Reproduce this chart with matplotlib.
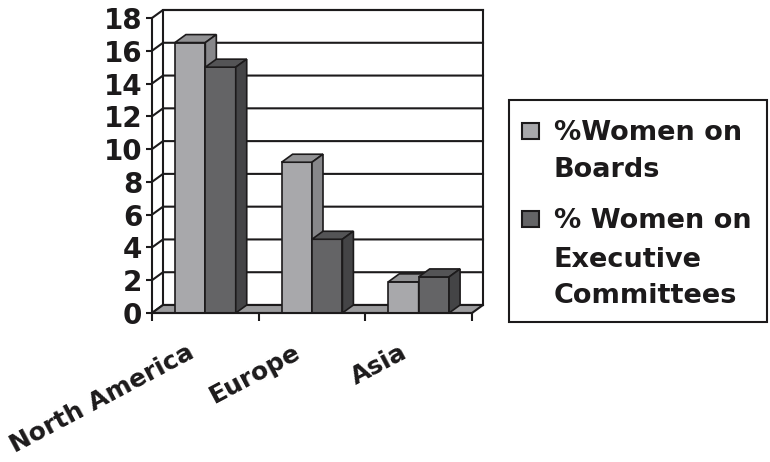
import matplotlib.pyplot as plt
from matplotlib.patches import Polygon, Rectangle
from matplotlib.transforms import ScaledTranslation

plt.rcParams['font.family'] = ['DejaVu Sans']
plt.rcParams['font.weight'] = 'bold'

# ---- data ----
regions = ['North America', 'Europe', 'Asia']
boards = [16.5, 9.2, 1.9]
exec_comm = [15.0, 4.5, 2.2]
series_names = [['%Women on', 'Boards'],
                ['% Women on', 'Executive', 'Committees']]
yticks = list(range(0, 20, 2))

# ---- colours (front, top, side) ----
board_cols = ('#a8a8ab', '#929294', '#87878a')
exec_cols = ('#646466', '#545456', '#444446')
floor_col = '#9c9c9e'
ink = '#1c1a1b'

W, H = 770, 462
fig = plt.figure(figsize=(W / 100, H / 100), dpi=100)

# front plane of the 3d box, in pixels
x0p, x1p, y0p, y1p = 152, 472, 313, 18
ax = fig.add_axes([x0p / W, 1 - y0p / H, (x1p - x0p) / W, (y0p - y1p) / H])
ax.set_xlim(0, 3)
ax.set_ylim(0, 18)
ax.patch.set_alpha(0)

# depth offset in data units
DX = 11 / ((x1p - x0p) / 3)
DY = 8 / ((y0p - y1p) / 18)

# back wall + gridlines (back wall and left wall)
ax.add_patch(Rectangle((DX, DY), 3, 18, fc='white', ec=ink, lw=1.5,
                       clip_on=False, zorder=0))
for v in yticks:
    ax.plot([0, DX, 3 + DX], [v, v + DY, v + DY], color=ink, lw=1.5,
            clip_on=False, zorder=1)

# floor
ax.add_patch(Polygon([(0, 0), (3, 0), (3 + DX, DY), (DX, DY)], closed=True,
                     fc=floor_col, ec=ink, lw=1.5, clip_on=False, zorder=2))


def bar3d(xs, vals, width, cols, z):
    ax.bar(xs, vals, width=width, align='edge', color=cols[0],
           edgecolor=ink, lw=1.2, zorder=z)
    for x, v in zip(xs, vals):
        top = [(x, v), (x + DX, v + DY), (x + width + DX, v + DY), (x + width, v)]
        side = [(x + width, 0), (x + width + DX, DY),
                (x + width + DX, v + DY), (x + width, v)]
        ax.add_patch(Polygon(top, closed=True, fc=cols[1], ec=ink, lw=1.2,
                             clip_on=False, zorder=z))
        ax.add_patch(Polygon(side, closed=True, fc=cols[2], ec=ink, lw=1.2,
                             clip_on=False, zorder=z))


BW = 0.285
centers = [i + 0.5 for i in range(len(regions))]
bar3d([c - BW for c in centers], boards, BW, board_cols, 3)
bar3d(centers, exec_comm, BW, exec_cols, 4)

# axes
for s in ['top', 'right']:
    ax.spines[s].set_visible(False)
for s in ['left', 'bottom']:
    ax.spines[s].set_linewidth(1.5)
    ax.spines[s].set_color(ink)
    ax.spines[s].set_zorder(5)
ax.set_yticks(yticks)
ax.set_yticklabels([str(v) for v in yticks], fontsize=20, fontweight='bold',
                   color=ink)
ax.tick_params(axis='y', length=4, width=1.5, pad=3, color=ink)
ax.set_xticks([0, 1, 2, 3])
ax.set_xticklabels([])
ax.tick_params(axis='x', length=6, width=1.5, color=ink)

for c, name in zip(centers, regions):
    off = ScaledTranslation(-0.10, -0.44, fig.dpi_scale_trans)
    ax.text(c, 0, name, transform=ax.transData + off, rotation=28,
            rotation_mode='anchor', ha='right', va='baseline', fontsize=18,
            fontweight='bold', color=ink)

# legend, drawn in pixel coords
lax = fig.add_axes([0, 0, 1, 1])
lax.set_xlim(0, W)
lax.set_ylim(H, 0)
lax.axis('off')
lax.add_patch(Rectangle((509, 100), 258, 222, fill=False, ec=ink, lw=1.5))
marker_tops = [123, 211]
line_bases = [[140, 177], [228, 267, 303]]
for lines, cols, ytop, bases in zip(series_names, [board_cols, exec_cols],
                                    marker_tops, line_bases):
    lax.add_patch(Rectangle((522, ytop), 17, 16, fc=cols[0], ec=ink, lw=1.5))
    for txt, yb in zip(lines, bases):
        lax.text(554, yb, txt, fontsize=19.5, fontweight='bold', color=ink,
                 va='baseline', ha='left')

fig.savefig('out.png', dpi=100)
